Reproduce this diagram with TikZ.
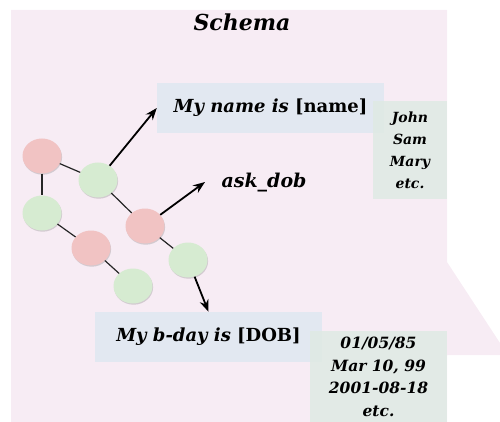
\documentclass[tikz,border=0pt]{standalone}
\usepackage{fontspec}
\setmainfont{DejaVu Serif}
\usetikzlibrary{arrows.meta,shadows,shapes.geometric}
\definecolor{bgpink}{HTML}{F7ECF4}
\definecolor{boxblue}{HTML}{E2E8F1}
\definecolor{boxgreen}{HTML}{DFEAE4}
\definecolor{cpink}{HTML}{F1C3C3}
\definecolor{cgreen}{HTML}{D6EBD1}
\begin{document}
\begin{tikzpicture}[x=1pt,y=-1pt,
  blob/.style={ellipse,minimum width=39pt,minimum height=35pt,inner sep=0pt,
    drop shadow={shadow xshift=0.6pt,shadow yshift=-1.2pt,opacity=0.25,fill=black!60}},
  pblob/.style={blob,fill=cpink},
  gblob/.style={blob,fill=cgreen},
  link/.style={line width=1.2pt,black!85},
  arr/.style={line width=1.8pt,-{Stealth[length=12pt,width=9pt]}},
  bluebox/.style={fill=boxblue,minimum width=227pt,minimum height=50pt,inner sep=0pt,
    font=\fontsize{18}{22}\selectfont\bfseries},
  greenbox/.style={fill=boxgreen,fill opacity=0.85,text opacity=1,inner sep=0pt,align=center,
    font=\fontsize{15.5}{22.5}\selectfont\bfseries\itshape},
]
\useasboundingbox (0,0) rectangle (500,422);
\fill[bgpink] (11,10) -- (447,10) -- (447,262) -- (500,343) -- (500,355) -- (447,355)
  -- (447,422) -- (11,422) -- cycle;

\node[font=\fontsize{22}{26}\selectfont\bfseries\itshape] (title) at (242,22) {Schema};

\node[bluebox] (namebox) at (270.5,108) {\textit{My name is} [name]};
\node[greenbox,minimum width=74pt,minimum height=98pt,font=\fontsize{14}{22}\selectfont\bfseries\itshape] (names) at (410,150) {John\\Sam\\Mary\\etc.};
\node[bluebox] (bday) at (208.5,337) {\textit{My b-day is} [DOB]};
\node[greenbox,minimum width=137pt,minimum height=93pt] (dates) at (378.5,377) {01/05/85\\Mar 10, 99\\2001-08-18\\etc.};

\node[font=\fontsize{19}{24}\selectfont\bfseries\itshape] (ask) at (264,183) {ask\_dob};
\coordinate (askin) at (205,182);

\node[pblob] (n1) at (42,156) {};
\node[gblob] (n2) at (98,180) {};
\node[gblob] (n3) at (42,213) {};
\node[pblob] (n4) at (145,226) {};
\node[pblob] (n5) at (91,248) {};
\node[gblob] (n6) at (188,260) {};
\node[gblob] (n7) at (133,286) {};

\draw[link] (n1) -- (n2);
\draw[link] (n1) -- (n3);
\draw[link] (n2) -- (n4);
\draw[link] (n3) -- (n5);
\draw[link] (n5) -- (n7);
\draw[link] (n4) -- (n6);

\draw[arr] (n2) -- (namebox.west);
\draw[arr] (n4) -- (askin);
\draw[arr] (n6) -- (bday.north);
\end{tikzpicture}
\end{document}
